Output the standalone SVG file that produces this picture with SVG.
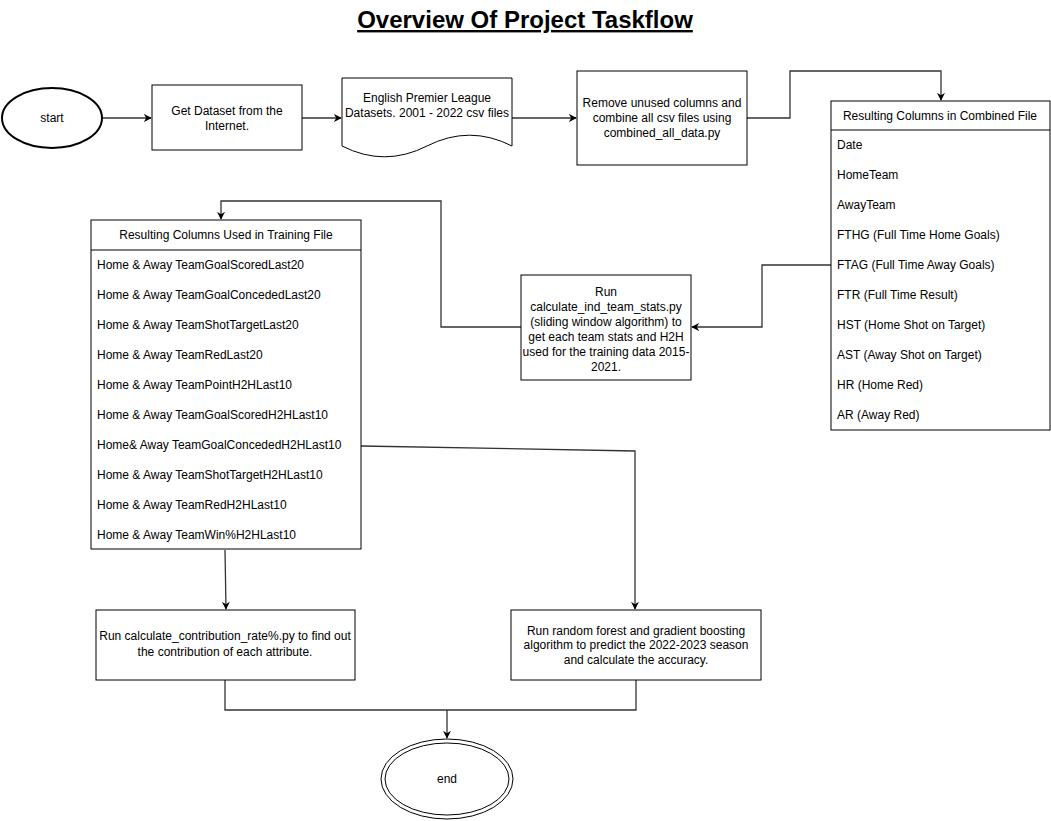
<svg xmlns="http://www.w3.org/2000/svg" width="1051" height="821" viewBox="0 0 1051 821">
<defs>
<style>
text{font-family:"Liberation Sans",Arial,sans-serif;font-size:12px;fill:#000}
.c{text-anchor:middle}
.box{fill:#fff;stroke:#000;stroke-width:1}
.conn{fill:none;stroke:#333;stroke-width:1.3}
.title{font-size:24px;font-weight:bold;text-decoration:underline}
</style>
<marker id="arr" viewBox="0 0 10 10" refX="9" refY="5" markerWidth="8" markerHeight="8" markerUnits="userSpaceOnUse" orient="auto">
<path d="M0 0 L10 5 L0 10 L3 5 Z" fill="#000"/>
</marker>
</defs>
<rect width="1051" height="821" fill="#fff"/>
<text class="c title" x="525" y="28">Overview Of Project Taskflow</text>

<g id="connectors">
<path class="conn" d="M102 118 H151" marker-end="url(#arr)"/>
<path class="conn" d="M302 118 H341" marker-end="url(#arr)"/>
<path class="conn" d="M512 118 H576" marker-end="url(#arr)"/>
<path class="conn" d="M747 118 H790 V71 H941 V100" marker-end="url(#arr)"/>
<path class="conn" d="M831 265 H762 V327 H692" marker-end="url(#arr)"/>
<path class="conn" d="M521 327 H441 V201 H221 V219" marker-end="url(#arr)"/>
<path class="conn" d="M361 446 L635 451 V609" marker-end="url(#arr)"/>
<path class="conn" d="M225 550 L226 609" marker-end="url(#arr)"/>
<path class="conn" d="M225 680 V710 H636 V680"/>
<path class="conn" d="M447 710 V738" marker-end="url(#arr)"/>
</g>

<g id="start">
<ellipse cx="52" cy="118" rx="50" ry="30" fill="#fff" stroke="#000" stroke-width="2"/>
<text class="c" x="52" y="122">start</text>
</g>

<g id="get-dataset">
<rect class="box" x="152" y="85" width="150" height="65"/>
<text class="c" x="227" y="115">Get Dataset from the</text>
<text class="c" x="227" y="130">Internet.</text>
</g>

<g id="epl-datasets">
<path class="box" d="M342 78 H512 V146 Q469.5 124.4 427 146 Q384.5 167.6 342 146 Z"/>
<text class="c" x="427" y="102">English Premier League</text>
<text class="c" x="427" y="117">Datasets. 2001 - 2022 csv files</text>
</g>

<g id="remove-columns">
<rect class="box" x="577" y="71" width="170" height="94"/>
<text class="c" x="662" y="107">Remove unused columns and</text>
<text class="c" x="662" y="122">combine all csv files using</text>
<text class="c" x="662" y="137">combined_all_data.py</text>
</g>

<g id="combined-columns">
<rect class="box" x="831" y="101" width="219" height="329"/>
<line x1="831" y1="130" x2="1050" y2="130" stroke="#000"/>
<text class="c" x="940" y="120">Resulting Columns in Combined File</text>
<text x="837" y="149">Date</text>
<text x="837" y="179">HomeTeam</text>
<text x="837" y="209">AwayTeam</text>
<text x="837" y="239">FTHG (Full Time Home Goals)</text>
<text x="837" y="269">FTAG (Full Time Away Goals)</text>
<text x="837" y="299">FTR (Full Time Result)</text>
<text x="837" y="329">HST (Home Shot on Target)</text>
<text x="837" y="359">AST (Away Shot on Target)</text>
<text x="837" y="389">HR (Home Red)</text>
<text x="837" y="419">AR (Away Red)</text>
</g>

<g id="calc-team-stats">
<rect class="box" x="521" y="275" width="170" height="105"/>
<text class="c" x="606" y="296">Run</text>
<text class="c" x="606" y="311">calculate_ind_team_stats.py</text>
<text class="c" x="606" y="326">(sliding window algorithm) to</text>
<text class="c" x="606" y="341">get each team stats and H2H</text>
<text class="c" x="606" y="356">used for the training data 2015-</text>
<text class="c" x="606" y="371">2021.</text>
</g>

<g id="training-columns">
<rect class="box" x="91" y="220" width="270" height="329"/>
<line x1="91" y1="250" x2="361" y2="250" stroke="#000"/>
<text class="c" x="226" y="239">Resulting Columns Used in Training File</text>
<text x="97" y="269">Home &amp; Away TeamGoalScoredLast20</text>
<text x="97" y="299">Home &amp; Away TeamGoalConcededLast20</text>
<text x="97" y="329">Home &amp; Away TeamShotTargetLast20</text>
<text x="97" y="359">Home &amp; Away TeamRedLast20</text>
<text x="97" y="389">Home &amp; Away TeamPointH2HLast10</text>
<text x="97" y="419">Home &amp; Away TeamGoalScoredH2HLast10</text>
<text x="97" y="449">Home&amp; Away TeamGoalConcededH2HLast10</text>
<text x="97" y="479">Home &amp; Away TeamShotTargetH2HLast10</text>
<text x="97" y="509">Home &amp; Away TeamRedH2HLast10</text>
<text x="97" y="539">Home &amp; Away TeamWin%H2HLast10</text>
</g>

<g id="contribution">
<rect class="box" x="96" y="610" width="259" height="70"/>
<text class="c" x="225" y="640">Run calculate_contribution_rate%.py to find out</text>
<text class="c" x="225" y="656">the contribution of each attribute.</text>
</g>

<g id="random-forest">
<rect class="box" x="511" y="610" width="250" height="70"/>
<text class="c" x="636" y="635">Run random forest and gradient boosting</text>
<text class="c" x="636" y="649">algorithm to predict the 2022-2023 season</text>
<text class="c" x="636" y="664">and calculate the accuracy.</text>
</g>

<g id="end">
<ellipse cx="447" cy="779" rx="66" ry="40" fill="#fff" stroke="#000" stroke-width="1"/>
<ellipse cx="447" cy="779" rx="62" ry="36" fill="none" stroke="#000" stroke-width="1"/>
<text class="c" x="447" y="783">end</text>
</g>
</svg>
